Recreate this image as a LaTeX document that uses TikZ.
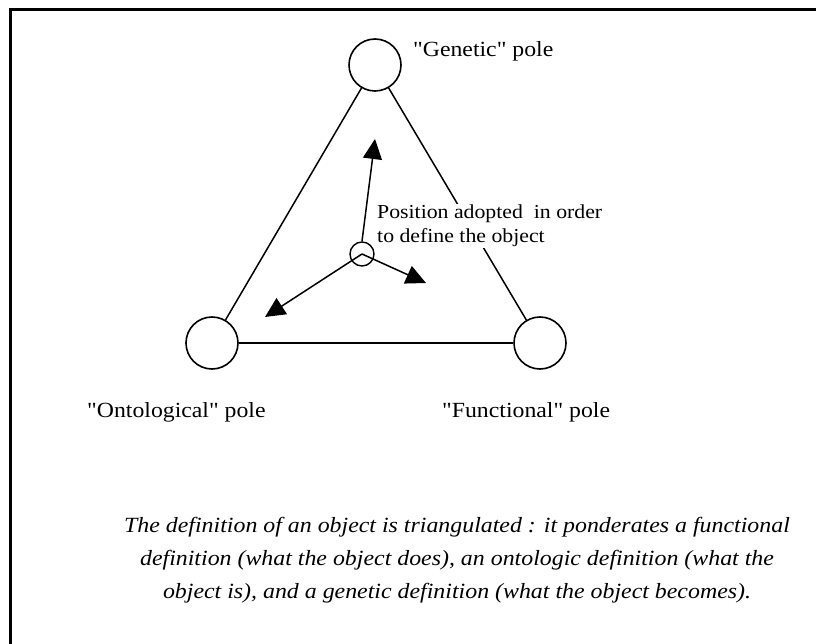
\documentclass[tikz,border=0pt]{standalone}
\usepackage{fontspec}
\setmainfont{Liberation Serif}[FakeStretch=1.1]
\newfontfamily\qfont{Liberation Serif}[FakeStretch=1.1]
\usetikzlibrary{arrows.meta}
\newcommand\sq{{\qfont\char34}}
\tikzset{
  pole/.style={circle,draw,line width=1.6pt,minimum size=52pt,inner sep=0pt},
  focus/.style={circle,draw,line width=1.4pt,minimum size=24pt,inner sep=0pt},
  edge/.style={line width=1.5pt},
  dir/.style={line width=1.5pt,-{Triangle[length=20pt,width=19pt]}},
  lbl/.style={inner sep=0pt,anchor=base west,font=\fontsize{21.6}{24}\selectfont},
}
\begin{document}
\begin{tikzpicture}[x=1pt,y=-1pt]
\useasboundingbox (0,0) rectangle (816,644);
\draw[line width=2.2pt] (10.5,650) -- (10.5,9.5) -- (830,9.5);
\node[pole] (G) at (375,65) {};
\node[pole] (O) at (212,343) {};
\node[pole] (F) at (540,343) {};
\node[focus] (P) at (362,254) {};
\draw[edge] (G) -- (O);
\draw[edge] (G) -- (F);
\draw[edge] (O) -- (F);
\node[lbl,fill=white,align=left,inner sep=1pt,font=\fontsize{19.8}{24}\selectfont] (PL) at (376,243) {Position adopted\ \ in order\\to define the object};
\coordinate (tU) at (375,139);
\coordinate (tL) at (265,317);
\coordinate (tR) at (426,283);
\draw[dir] (P.north) -- (tU);
\draw[dir] (P.center) -- (tL);
\draw[dir] (P.center) -- (tR);
\node[lbl] (GL) at (413,57) {\sq Genetic\sq{} pole};
\node[lbl] (OL) at (87,417) {\sq Ontological\sq{} pole};
\node[lbl] (FL) at (442,417) {\sq Functional\sq{} pole};
\node[inner sep=0pt,align=center,font=\fontsize{21.7}{33}\selectfont\itshape] (cap) at (457,560)
 {The definition of an object is triangulated : it ponderates a functional\\definition (what the object does), an ontologic definition (what the\\object is), and a genetic definition (what the object becomes).};
\end{tikzpicture}
\end{document}
